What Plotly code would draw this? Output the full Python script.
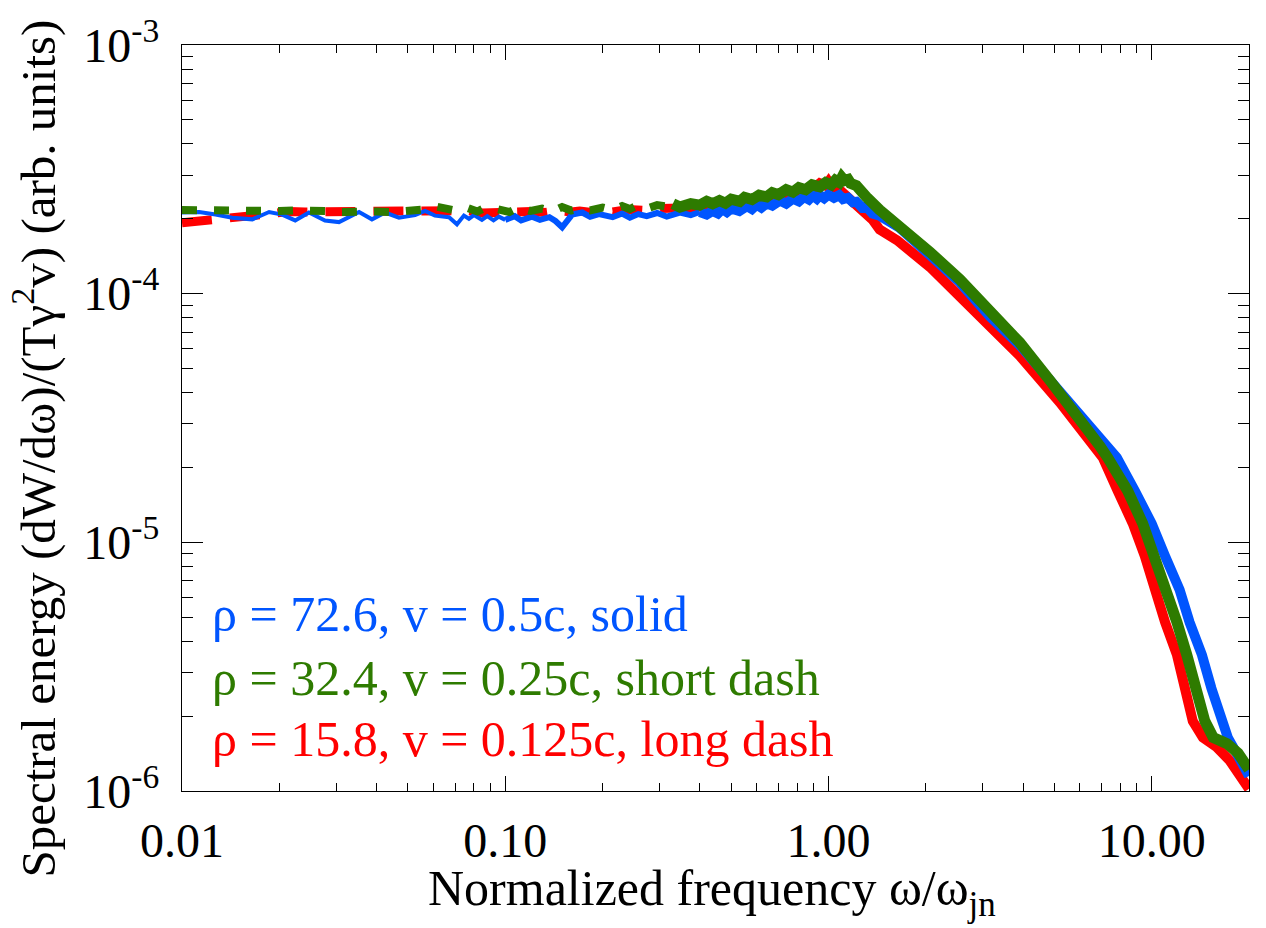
import plotly.graph_objects as go

# ---------------- data ----------------
freq_blue = [0.0100, 0.0113, 0.0127, 0.0143, 0.0165, 0.0186, 0.0204, 0.0224, 0.0247, 0.0277,
             0.0306, 0.0353, 0.0387, 0.0425, 0.0469, 0.0526, 0.0565, 0.0606, 0.0670, 0.0709,
             0.0745, 0.0772, 0.0800, 0.0847, 0.0880, 0.0920, 0.0956, 0.100, 0.107, 0.112,
             0.121, 0.128, 0.137, 0.143, 0.150, 0.161, 0.173, 0.183, 0.195, 0.215,
             0.230, 0.243, 0.258, 0.274, 0.295, 0.316, 0.347, 0.375,
             0.40, 0.42, 0.438, 0.455, 0.47, 0.485, 0.50, 0.53, 0.56, 0.58,
             0.60, 0.62, 0.644, 0.67, 0.708, 0.74, 0.776, 0.81, 0.84, 0.87,
             0.895, 0.92, 0.94, 0.97, 1.00, 1.04, 1.08, 1.11, 1.15, 1.19,
             1.22, 1.27, 1.31, 1.37, 1.44, 1.66, 2.06, 2.55,
             3.16, 3.91, 4.84, 5.50, 6.30, 7.80, 8.87, 10.0, 11.0, 12.2,
             13.1, 14.3, 15.3, 16.5, 17.2, 18.3, 19.7, 20.0]
spec_blue = [2.12e-4, 2.13e-4, 2.08e-4, 2.02e-4, 1.99e-4, 2.13e-4, 2.08e-4, 1.97e-4, 2.12e-4, 1.97e-4,
             1.94e-4, 2.13e-4, 1.99e-4, 2.12e-4, 2.02e-4, 2.07e-4, 2.15e-4, 2.06e-4, 2.03e-4, 1.90e-4,
             2.06e-4, 2.00e-4, 2.07e-4, 1.98e-4, 2.05e-4, 1.97e-4, 2.04e-4, 1.98e-4, 2.05e-4, 1.97e-4,
             2.04e-4, 1.98e-4, 2.03e-4, 1.96e-4, 1.85e-4, 2.08e-4, 2.12e-4, 2.04e-4, 2.09e-4, 2.03e-4,
             2.10e-4, 2.02e-4, 2.09e-4, 2.05e-4, 2.11e-4, 2.04e-4, 2.12e-4, 2.07e-4,
             2.13e-4, 2.08e-4, 2.15e-4, 2.10e-4, 2.19e-4, 2.13e-4, 2.20e-4, 2.15e-4, 2.25e-4, 2.19e-4,
             2.28e-4, 2.22e-4, 2.31e-4, 2.26e-4, 2.37e-4, 2.30e-4, 2.41e-4, 2.35e-4, 2.45e-4, 2.39e-4,
             2.48e-4, 2.41e-4, 2.49e-4, 2.42e-4, 2.50e-4, 2.43e-4, 2.49e-4, 2.40e-4, 2.43e-4, 2.33e-4,
             2.34e-4, 2.22e-4, 2.24e-4, 2.10e-4, 2.06e-4, 1.84e-4, 1.43e-4, 1.11e-4,
             8.1e-5, 6.2e-5, 4.5e-5, 3.7e-5, 2.96e-5, 2.19e-5, 1.61e-5, 1.19e-5, 8.8e-6, 6.45e-6,
             4.77e-6, 3.53e-6, 2.59e-6, 1.91e-6, 1.64e-6, 1.42e-6, 1.21e-6, 1.15e-6]

freq_green = [0.0100, 0.0113, 0.0128, 0.0143, 0.0160, 0.0180, 0.0200, 0.0222, 0.0250, 0.0280,
              0.0310, 0.0350, 0.0400, 0.0450, 0.0500, 0.0560, 0.0610, 0.0660, 0.0710, 0.0760,
              0.0820, 0.0880, 0.0950, 0.1030, 0.1100, 0.1200, 0.1300, 0.1400, 0.1500, 0.1600,
              0.1700, 0.183, 0.200, 0.215, 0.230, 0.243, 0.258, 0.274, 0.295, 0.316,
              0.330, 0.347, 0.375,
              0.40, 0.42, 0.438, 0.46, 0.48, 0.50, 0.532, 0.55, 0.58, 0.61,
              0.644, 0.67, 0.70, 0.74, 0.776, 0.81, 0.85, 0.89, 0.94, 0.98,
              1.02, 1.05, 1.08, 1.10, 1.12, 1.15, 1.17, 1.22, 1.26, 1.31,
              1.44, 1.66, 2.06, 2.55, 3.16, 3.91, 4.84, 6.00, 6.91, 7.31,
              8.43, 9.38, 10.2, 11.1, 11.97, 12.84, 13.6, 14.6, 15.5, 16.2,
              17.1, 18.5, 19.8, 20.0]
spec_green = [2.17e-4, 2.16e-4, 2.15e-4, 2.14e-4, 2.15e-4, 2.13e-4, 2.15e-4, 2.16e-4, 2.17e-4, 2.15e-4,
              2.13e-4, 2.15e-4, 2.14e-4, 2.13e-4, 2.15e-4, 2.18e-4, 2.24e-4, 2.20e-4, 2.15e-4, 2.22e-4,
              2.14e-4, 2.24e-4, 2.17e-4, 2.13e-4, 2.22e-4, 2.15e-4, 2.20e-4, 2.14e-4, 2.23e-4, 2.16e-4,
              2.20e-4, 2.16e-4, 2.22e-4, 2.17e-4, 2.25e-4, 2.19e-4, 2.27e-4, 2.20e-4, 2.27e-4, 2.24e-4,
              2.30e-4, 2.23e-4, 2.30e-4,
              2.27e-4, 2.35e-4, 2.30e-4, 2.37e-4, 2.31e-4, 2.40e-4, 2.35e-4, 2.44e-4, 2.39e-4, 2.49e-4,
              2.45e-4, 2.55e-4, 2.50e-4, 2.62e-4, 2.56e-4, 2.67e-4, 2.62e-4, 2.74e-4, 2.69e-4, 2.80e-4,
              2.74e-4, 2.86e-4, 2.80e-4, 2.93e-4, 2.85e-4, 2.88e-4, 2.78e-4, 2.72e-4, 2.58e-4, 2.45e-4,
              2.17e-4, 1.88e-4, 1.47e-4, 1.14e-4, 8.5e-5, 6.35e-5, 4.48e-5, 3.16e-5, 2.44e-5, 2.19e-5,
              1.61e-5, 1.19e-5, 8.8e-6, 6.45e-6, 4.77e-6, 3.53e-6, 2.59e-6, 1.91e-6, 1.64e-6, 1.60e-6,
              1.55e-6, 1.42e-6, 1.25e-6, 1.22e-6]

freq_red = [0.0100, 0.0112, 0.0125, 0.0140, 0.0165, 0.0190, 0.0215, 0.0240, 0.0270, 0.0300,
            0.0340, 0.0400, 0.0450, 0.0520, 0.0590, 0.0680, 0.0760, 0.0850, 0.0950, 0.107,
            0.120, 0.133, 0.147, 0.160, 0.170, 0.185, 0.200, 0.215, 0.240, 0.270,
            0.300, 0.350, 0.400, 0.440, 0.490, 0.530, 0.580, 0.640, 0.700, 0.740,
            0.780, 0.840, 0.900, 0.940, 0.980, 1.00, 1.03, 1.08, 1.15, 1.22,
            1.30, 1.37, 1.44, 1.63, 2.06, 2.94, 3.91, 5.20, 7.06, 7.85,
            8.74, 9.52, 10.2, 11.0, 11.97, 12.65, 13.4, 14.4, 15.9, 17.4,
            19.1, 19.7, 20.0]
spec_red = [1.93e-4, 1.95e-4, 1.97e-4, 2.02e-4, 2.06e-4, 2.10e-4, 2.14e-4, 2.13e-4, 2.13e-4, 2.15e-4,
            2.16e-4, 2.17e-4, 2.15e-4, 2.17e-4, 2.15e-4, 2.13e-4, 2.16e-4, 2.11e-4, 2.13e-4, 2.11e-4,
            2.14e-4, 2.12e-4, 2.16e-4, 2.13e-4, 2.15e-4, 2.12e-4, 2.16e-4, 2.13e-4, 2.18e-4, 2.16e-4,
            2.20e-4, 2.21e-4, 2.24e-4, 2.28e-4, 2.26e-4, 2.33e-4, 2.33e-4, 2.42e-4, 2.45e-4, 2.55e-4,
            2.52e-4, 2.63e-4, 2.65e-4, 2.78e-4, 2.72e-4, 2.82e-4, 2.66e-4, 2.62e-4, 2.45e-4, 2.30e-4,
            2.12e-4, 1.98e-4, 1.81e-4, 1.64e-4, 1.28e-4, 8.2e-5, 5.62e-5, 3.65e-5, 2.19e-5, 1.61e-5,
            1.19e-5, 8.8e-6, 6.45e-6, 4.77e-6, 3.53e-6, 2.59e-6, 1.91e-6, 1.64e-6, 1.50e-6, 1.33e-6,
            1.11e-6, 1.04e-6, 1.02e-6]

series_labels = ["ρ = 72.6, v = 0.5c, solid",
                 "ρ = 32.4, v = 0.25c, short dash",
                 "ρ = 15.8, v = 0.125c, long dash"]

x_tick_vals = [0.01, 0.1, 1, 10]
x_tick_text = ["0.01", "0.10", "1.00", "10.00"]
y_tick_vals = [1e-6, 1e-5, 1e-4, 1e-3]
y_tick_text = ["10<sup>-6</sup>", "10<sup>-5</sup>", "10<sup>-4</sup>", "10<sup>-3</sup>"]

x_title = "Normalized frequency ω/ω<sub>jn</sub>"
y_title = "Spectral energy (dW/dω)/(Tγ<sup>2</sup>v) (arb. units)"

# ---------------- styling ----------------
BLUE = "#0055ff"
GREEN = "#2e7b00"
RED = "#ff0000"
FONT = "Liberation Serif, Times New Roman, serif"

W, H = 1266, 928
L, R, T, B = 182, 17, 35, 137
PW, PH = W - L - R, H - T - B


def px_x(px):
    return (px - L) / PW


def px_y(py):
    return (H - B - py) / PH


fig = go.Figure()


def add_series(freq, spec, color, segments):
    for fmin, fmax, width, dash in segments:
        xs = [f for f in freq if fmin <= f <= fmax]
        ys = [s for f, s in zip(freq, spec) if fmin <= f <= fmax]
        fig.add_trace(go.Scatter(x=xs, y=ys, mode="lines",
                                 line=dict(color=color, width=width, dash=dash),
                                 showlegend=False, hoverinfo="skip"))


add_series(freq_red, spec_red, RED,
           [(0.0, 0.35, 9, "30px,18px"), (0.35, 25.0, 10, "solid")])
add_series(freq_blue, spec_blue, BLUE,
           [(0.0, 0.100, 4, "solid"), (0.100, 0.40, 6, "solid"), (0.40, 25.0, 10, "solid")])
add_series(freq_green, spec_green, GREEN,
           [(0.0, 0.330, 8, "15px,17px"), (0.330, 25.0, 11, "solid")])

axis_common = dict(
    type="log", showgrid=False, zeroline=False,
    showline=True, linecolor="black", linewidth=1.2, mirror="ticks",
    ticks="inside", tickcolor="black", tickwidth=1.2,
    tickfont=dict(family=FONT, size=48, color="black"),
    tickmode="array",
)

fig.update_xaxes(**axis_common, range=[-2, 1.30103], tickvals=x_tick_vals, ticktext=x_tick_text,
                 ticklen=15, ticklabelstandoff=7,
                 minor=dict(ticks="inside", ticklen=8, tickwidth=1.2, tickcolor="black",
                            dtick="D1", showgrid=False))
fig.update_yaxes(**axis_common, range=[-6, -3], tickvals=y_tick_vals, ticktext=y_tick_text,
                 ticklen=21, ticklabelstandoff=12,
                 minor=dict(ticks="inside", ticklen=11, tickwidth=1.2, tickcolor="black",
                            dtick="D1", showgrid=False))

annotations = [
    dict(text=x_title, x=px_x(712), y=px_y(893), xref="paper", yref="paper",
         xanchor="center", yanchor="middle", showarrow=False,
         font=dict(family=FONT, size=50, color="black")),
    dict(text=y_title, x=px_x(35), y=px_y(444), xref="paper", yref="paper",
         xanchor="center", yanchor="middle", textangle=-90, showarrow=False,
         font=dict(family=FONT, size=49, color="black")),
]
for label, color, py in zip(series_labels, [BLUE, GREEN, RED], [612, 676, 738]):
    annotations.append(dict(text=label, x=px_x(210), y=px_y(py), xref="paper", yref="paper",
                            xanchor="left", yanchor="middle", showarrow=False,
                            font=dict(family=FONT, size=50, color=color)))

fig.update_layout(
    width=W, height=H, autosize=False,
    margin=dict(l=L, r=R, t=T, b=B, pad=0),
    plot_bgcolor="white", paper_bgcolor="white",
    annotations=annotations,
    showlegend=False,
)

fig.write_html("out.html")
